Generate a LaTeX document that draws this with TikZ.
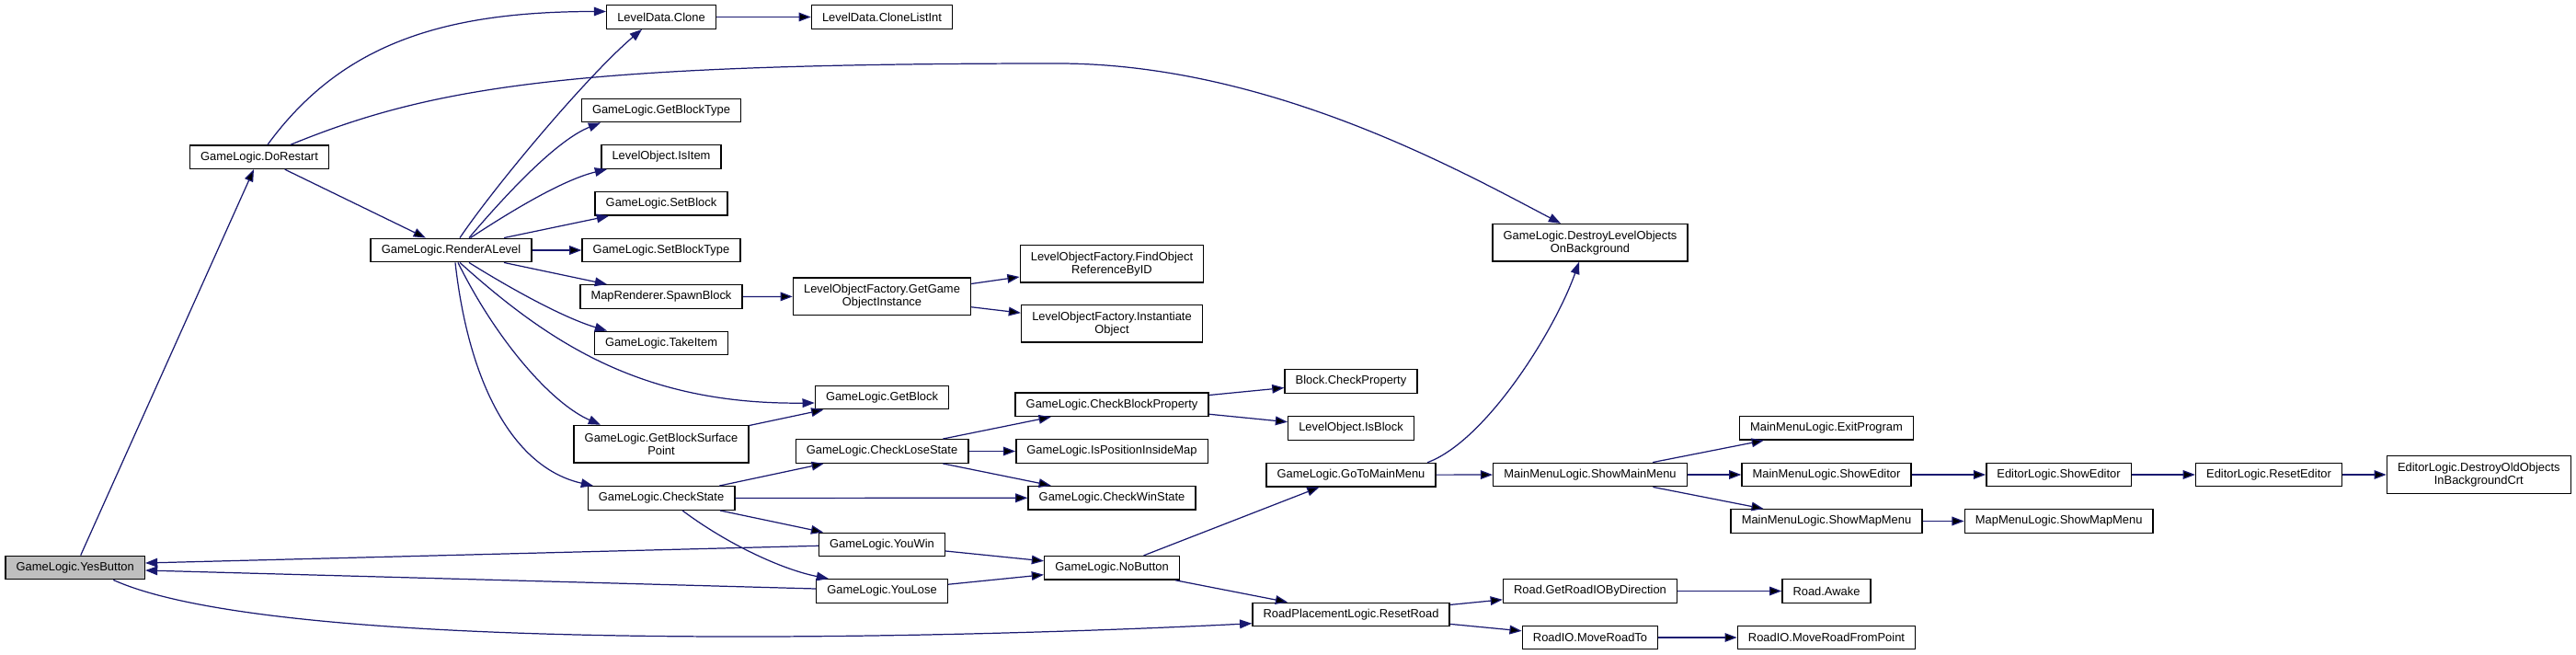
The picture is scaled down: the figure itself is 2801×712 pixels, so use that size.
\documentclass[tikz,border=0pt]{standalone}
\usepackage{fontspec}
\setmainfont{Liberation Sans}
\usepackage{tikz}
\usetikzlibrary{arrows.meta,calc}
\definecolor{edgeblue}{HTML}{191970}
\definecolor{rootgray}{HTML}{BFBFBF}

\begin{document}
\begin{tikzpicture}[x=0.02cm,y=0.02cm,
    fn/.style={draw=black,line width=0.8pt,fill=white,inner xsep=6.6pt,inner ysep=2pt,
      minimum height=0.51cm,font=\fontsize{7.35}{8}\selectfont},
    fnroot/.style={fn,fill=rootgray},
    fntwo/.style={fn,align=center,minimum height=0.81cm},
    call/.style={draw=edgeblue,line width=0.7pt,->,>={Triangle[length=7.5pt,width=5.5pt]}}]
    \useasboundingbox (0,0) rectangle (2801,-712);
    \node[fnroot] (YB) at (81.7,-617) {GameLogic.YesButton};
    \node[fn] (DR) at (282,-170.7) {GameLogic.DoRestart};
    \node[fn] (RL) at (490.5,-272) {GameLogic.RenderALevel};
    \node[fn] (LC) at (719,-18.5) {LevelData.Clone};
    \node[fn] (GBT) at (719,-120) {GameLogic.GetBlockType};
    \node[fn] (LII) at (719,-170.5) {LevelObject.IsItem};
    \node[fn] (GSB) at (719,-221.3) {GameLogic.SetBlock};
    \node[fn] (GSBT) at (719,-272) {GameLogic.SetBlockType};
    \node[fn] (MSB) at (719,-322.5) {MapRenderer.SpawnBlock};
    \node[fn] (GTI) at (719,-373) {GameLogic.TakeItem};
    \node[fntwo] (GBSP) at (719,-482.7) {GameLogic.GetBlockSurface\\Point};
    \node[fn] (GCS) at (719,-541.5) {GameLogic.CheckState};
    \node[fn] (LCL) at (959,-18.5) {LevelData.CloneListInt};
    \node[fntwo] (FGO) at (959,-322.3) {LevelObjectFactory.GetGame\\ObjectInstance};
    \node[fn] (GGB) at (959,-432) {GameLogic.GetBlock};
    \node[fn] (GCL) at (959,-490.5) {GameLogic.CheckLoseState};
    \node[fn] (GYW) at (959,-592) {GameLogic.YouWin};
    \node[fn] (GYL) at (959,-642.5) {GameLogic.YouLose};
    \node[fntwo] (FFO) at (1209,-286.7) {LevelObjectFactory.FindObject\\ReferenceByID};
    \node[fntwo] (FIO) at (1209,-351.8) {LevelObjectFactory.Instantiate\\Object};
    \node[fn] (GCBP) at (1209,-439.8) {GameLogic.CheckBlockProperty};
    \node[fn] (GIPM) at (1209,-490.5) {GameLogic.IsPositionInsideMap};
    \node[fn] (GCW) at (1209,-541.2) {GameLogic.CheckWinState};
    \node[fn] (GNB) at (1209,-617.3) {GameLogic.NoButton};
    \node[fn] (BCP) at (1469,-414.5) {Block.CheckProperty};
    \node[fn] (LIB) at (1469,-465.5) {LevelObject.IsBlock};
    \node[fn] (GGM) at (1469,-516.2) {GameLogic.GoToMainMenu};
    \node[fn] (RPR) at (1469,-668) {RoadPlacementLogic.ResetRoad};
    \node[fntwo] (GDL) at (1729,-263.8) {GameLogic.DestroyLevelObjects\\OnBackground};
    \node[fn] (MSM) at (1729,-516) {MainMenuLogic.ShowMainMenu};
    \node[fn] (RGR) at (1729,-642.5) {Road.GetRoadIOByDirection};
    \node[fn] (RMT) at (1729,-693) {RoadIO.MoveRoadTo};
    \node[fn] (MEP) at (1986,-465.3) {MainMenuLogic.ExitProgram};
    \node[fn] (MSE) at (1986,-516) {MainMenuLogic.ShowEditor};
    \node[fn] (MSMM) at (1986,-566.5) {MainMenuLogic.ShowMapMenu};
    \node[fn] (RAW) at (1986,-642.5) {Road.Awake};
    \node[fn] (RMF) at (1986,-693) {RoadIO.MoveRoadFromPoint};
    \node[fn] (ESE) at (2238.5,-516) {EditorLogic.ShowEditor};
    \node[fn] (MMS) at (2238.7,-566.5) {MapMenuLogic.ShowMapMenu};
    \node[fn] (ERE) at (2467,-516) {EditorLogic.ResetEditor};
    \node[fntwo] (EDO) at (2695.3,-516) {EditorLogic.DestroyOldObjects\\InBackgroundCrt};
    \coordinate (DRtop) at (1150,-69);
    \path[call]
      (YB) edge (DR)
      (DR) edge (RL)
      (RL) edge (GSBT)
      (LC) edge (LCL)
      (MSB) edge (FGO)
      (FGO) edge (FFO)
      (FGO) edge (FIO)
      (GBSP) edge (GGB)
      (GCS) edge (GCL)
      (GCS) edge (GCW)
      (GCS) edge (GYW)
      (GCL) edge (GCBP)
      (GCL) edge (GIPM)
      (GCL) edge (GCW)
      (GCBP) edge (BCP)
      (GCBP) edge (LIB)
      (GYW) edge (GNB)
      (GYL) edge (GNB)
      (GNB) edge (GGM)
      (GNB) edge (RPR)
      (GGM) edge (MSM)
      (MSM) edge (MEP)
      (MSM) edge (MSE)
      (MSM) edge (MSMM)
      (MSE) edge (ESE)
      (ESE) edge (ERE)
      (ERE) edge (EDO)
      (MSMM) edge (MMS)
      (RPR) edge (RGR)
      (RPR) edge (RMT)
      (RGR) edge (RAW)
      (RMT) edge (RMF);
    \draw[call] ($(DR.north)+(9,0)$) .. controls +(79,108) and +(-180,0) .. ($(LC.west)+(0,6)$);
    \draw[call] ($(DR.north)+(34,0)$) .. controls +(154,63) and +(-530,0) .. (DRtop)
      .. controls +(230,0) and +(-107,56) .. ($(GDL.north)+(-32,0)$);
    \draw[call] ($(RL.north)+(9.5,0)$) .. controls +(40,59) and +(-58,-49) .. ($(LC.south)+(-21,0)$);
    \draw[call] ($(RL.north)+(19.5,0)$) .. controls +(40,47) and +(-48,-19) .. ($(GBT.south)+(-66,0)$);
    \draw[call] ($(RL.north)+(21,0)$) .. controls +(38,25) and +(-50,-12) .. ($(LII.south)+(-59,0)$);
    \draw[call] ($(RL.north)+(57.5,0)$) -- ($(GSB.south)+(-57,0)$);
    \draw[call] ($(RL.south)+(57.5,0)$) -- ($(MSB.north)+(-59,0)$);
    \draw[call] ($(RL.south)+(19.5,0)$) .. controls +(40,-25) and +(-50,15) .. ($(GTI.north)+(-59,0)$);
    \draw[call] ($(RL.south)+(9.5,0)$) .. controls +(100,-90) and +(-185,-2) .. ($(GGB.west)+(0,-6)$);
    \draw[call] ($(RL.south)+(7.5,0)$) .. controls +(42,-85) and +(-53,23) .. ($(GBSP.north)+(-66,0)$);
    \draw[call] ($(RL.south)+(4.5,0)$) .. controls +(15,-135) and +(-85,19) .. ($(GCS.north)+(-74,0)$);
    \draw[call] ($(GCS.south)+(23,0)$) .. controls +(48,-36) and +(-51,10) .. ($(GYL.north)+(-58,0)$);
    \draw[call] ($(GYW.west)+(0,-1.3)$) -- ($(YB.east)+(0,5)$);
    \draw[call] ($(GYL.west)+(0,2.5)$) -- ($(YB.east)+(0,-3)$);
    \draw[call] ($(YB.south)+(41.6,0)$) .. controls +(177,-80) and +(-362,-18) .. ($(RPR.west)+(0,-9.7)$);
    \draw[call] ($(GGM.north)+(83,0)$) .. controls +(63,23) and +(-27,-76) .. ($(GDL.south)+(-12,0)$);
  \end{tikzpicture}
\end{document}
